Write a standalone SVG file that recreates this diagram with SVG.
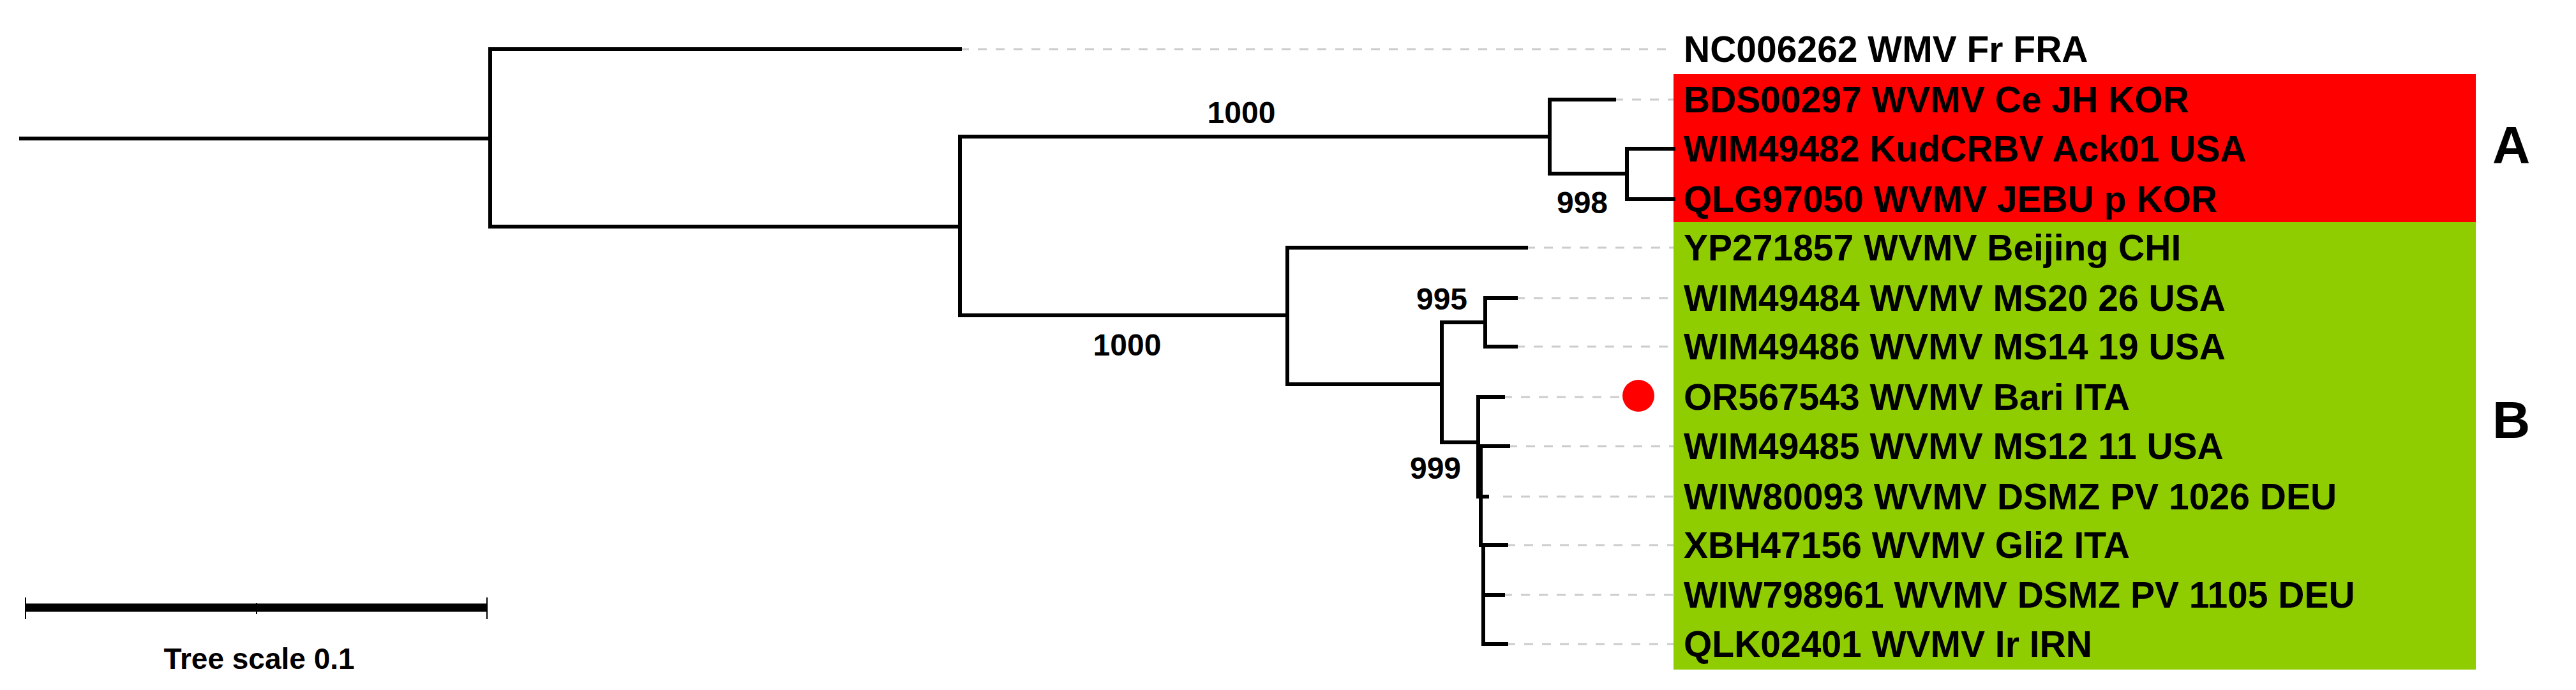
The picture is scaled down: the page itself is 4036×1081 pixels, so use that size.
<svg xmlns="http://www.w3.org/2000/svg" width="4036" height="1081" viewBox="0 0 4036 1081">
<style>
.br{stroke:#000;stroke-width:6;fill:none;stroke-linecap:square}
.dl{stroke:#ccc;stroke-width:3;stroke-dasharray:14 14;fill:none}
.lb{font-family:"Liberation Sans",Arial,sans-serif;font-weight:bold;font-size:57px;fill:#000}
.bs{font-family:"Liberation Sans",Arial,sans-serif;font-weight:bold;font-size:48px;fill:#000;text-anchor:middle}
.cl{font-family:"Liberation Sans",Arial,sans-serif;font-weight:bold;font-size:82px;fill:#000}
</style>
<rect x="0" y="0" width="4036" height="1081" fill="#fff"/>
<g id="clades">
<rect x="2622" y="116" width="1257" height="232" fill="#ff0000"/>
<rect x="2622" y="348" width="1257" height="701" fill="#8fcc00"/>
<text class="cl" x="3905" y="255">A</text>
<text class="cl" x="3905" y="686">B</text>
</g>
<g id="connectors">
<path class="dl" d="M1504 77H2622M2529 156H2622M2391 388H2622M2375 467H2622M2375 543H2622M2355 622H2540M2363 699H2622M2355 778H2622M2360 854H2622M2355 932H2622M2360 1009H2622"/>
<path class="br" d="M33 217H768M768 77V355M768 77H1504M768 355H1504M1504 214V494M1504 214H2428M2428 156V272M2428 156H2529M2428 272H2549M2549 233V312M2549 233H2622M2549 312H2622"/>
<path class="br" d="M1504 494H2017M2017 388V602M2017 388H2391M2017 602H2259M2259 505V693M2259 505H2327M2327 467V543M2327 467H2375M2327 543H2375M2259 693H2316M2316 622V778M2316 622H2355M2316 699H2363M2316 778H2330M2320 699V854M2320 854H2360M2324 854V1009M2324 932H2355M2324 1009H2360"/>
</g>
<g id="labels">
<text class="lb" x="2638" y="97">NC006262 WMV Fr FRA</text>
<text class="lb" x="2638" y="176">BDS00297 WVMV Ce JH KOR</text>
<text class="lb" x="2638" y="253">WIM49482 KudCRBV Ack01 USA</text>
<text class="lb" x="2638" y="332">QLG97050 WVMV JEBU p KOR</text>
<text class="lb" x="2638" y="408">YP271857 WVMV Beijing CHI</text>
<text class="lb" x="2638" y="487">WIM49484 WVMV MS20 26 USA</text>
<text class="lb" x="2638" y="563">WIM49486 WVMV MS14 19 USA</text>
<text class="lb" x="2638" y="642">OR567543 WVMV Bari ITA</text>
<text class="lb" x="2638" y="719">WIM49485 WVMV MS12 11 USA</text>
<text class="lb" x="2638" y="798">WIW80093 WVMV DSMZ PV 1026 DEU</text>
<text class="lb" x="2638" y="874">XBH47156 WVMV Gli2 ITA</text>
<text class="lb" x="2638" y="952">WIW798961 WVMV DSMZ PV 1105 DEU</text>
<text class="lb" x="2638" y="1029">QLK02401 WVMV Ir IRN</text>
</g>
<g id="marker"><circle cx="2567" cy="620" r="25" fill="#ff0000"/></g>
<g id="bootstrap">
<text class="bs" x="1945" y="193">1000</text>
<text class="bs" x="2479" y="334">998</text>
<text class="bs" x="1766" y="557">1000</text>
<text class="bs" x="2259" y="485">995</text>
<text class="bs" x="2249" y="750">999</text>
</g>
<g id="scale">
<path d="M40 952H763" stroke="#000" stroke-width="13"/>
<path d="M40 936V970M402 945V962M763 936V970" stroke="#000" stroke-width="2"/>
<text x="406" y="1048" font-family="Liberation Sans,Arial,sans-serif" font-weight="bold" font-size="46" text-anchor="middle">Tree scale 0.1</text>
</g>
</svg>
